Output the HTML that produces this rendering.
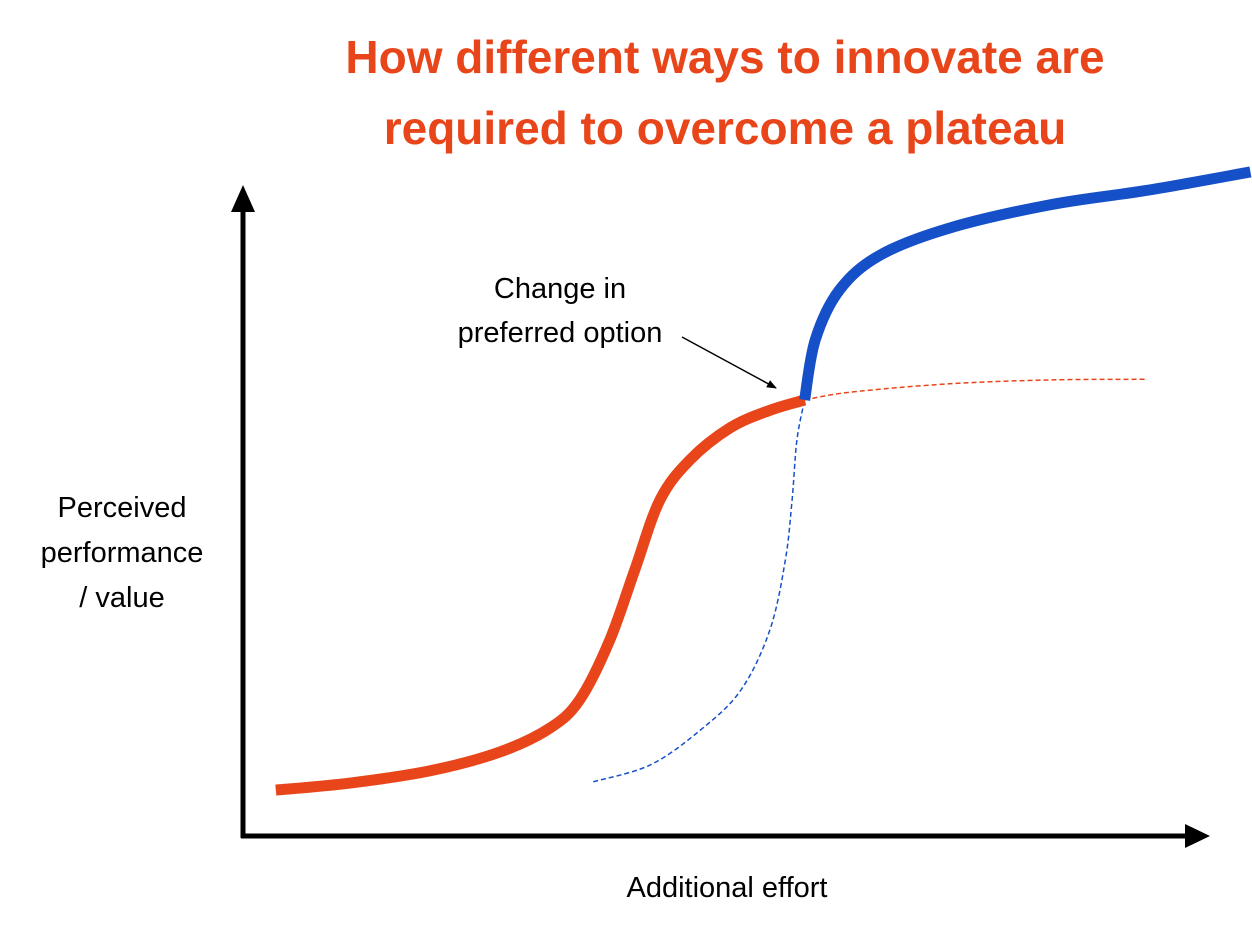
<!DOCTYPE html>
<html><head><meta charset="utf-8"><style>
html,body{margin:0;padding:0;background:#fff;}
svg{display:block;font-family:"Liberation Sans",sans-serif;}
</style></head><body>
<svg id="chart" width="1252" height="931" viewBox="0 0 1252 931">
<defs>
<marker id="ah" markerWidth="10" markerHeight="10" refX="9" refY="5" orient="auto" markerUnits="userSpaceOnUse"><path d="M0,1 L10,5 L0,9 z" fill="#000"/></marker>
</defs>
<text x="725" y="73" text-anchor="middle" font-size="46" font-weight="bold" fill="#E8461A">How different ways to innovate are</text>
<text x="725" y="144" text-anchor="middle" font-size="46" font-weight="bold" fill="#E8461A">required to overcome a plateau</text>
<line x1="243" y1="838" x2="243" y2="210" stroke="#000" stroke-width="5"/>
<polygon points="231,212 255,212 243,185" fill="#000"/>
<line x1="241" y1="836" x2="1188" y2="836" stroke="#000" stroke-width="5"/>
<polygon points="1185,824 1185,848 1210,836" fill="#000"/>
<text font-size="29" text-anchor="middle" fill="#000">
<tspan x="122" y="517">Perceived</tspan><tspan x="122" y="562">performance</tspan><tspan x="122" y="607">/ value</tspan></text>
<text x="727" y="897" font-size="29" text-anchor="middle" fill="#000">Additional effort</text>
<text font-size="29" text-anchor="middle" fill="#000">
<tspan x="560" y="298">Change in</tspan><tspan x="560" y="342">preferred option</tspan></text>
<line x1="682" y1="337" x2="776" y2="388" stroke="#000" stroke-width="1.5" marker-end="url(#ah)"/>
<g id="series"></g>
</svg>
<script>
const orangeX=[3.4,11.1,19.4,26.6,31.8,34.9,38.0,40.6,43.2,46.3,50.5,54.6,58.2];
const orangeY=[7.1,8.2,10.1,13.0,16.7,21.1,30.3,41.2,52.0,58.2,63.2,65.9,67.5];
const orangeDashX=[58.2,62.9,73.2,83.6,93.5];
const orangeDashY=[67.5,68.7,70.0,70.6,70.7];
const blueX=[58.2,59.3,61.8,66.0,73.2,83.6,93.9,104.4];
const blueY=[67.5,76.8,84.5,89.9,94.1,97.7,100,102.8];
const blueDashX=[36.3,42.2,47.4,51.6,54.6,56.2,56.9,57.4,58.2];
const blueDashY=[8.4,11.0,16.4,22.6,31.9,42.7,52.0,61.3,67.5];
function sx(v){return 243+v*9.65;}
function sy(v){return 836-v*6.46;}
function pathFrom(xs,ys){
  const p=xs.map((x,i)=>[sx(x),sy(ys[i])]);
  let d="M"+p[0][0]+","+p[0][1];
  for(let i=0;i<p.length-1;i++){
    const p0=p[Math.max(0,i-1)],p1=p[i],p2=p[i+1],p3=p[Math.min(p.length-1,i+2)];
    const c1=[p1[0]+(p2[0]-p0[0])/6,p1[1]+(p2[1]-p0[1])/6];
    const c2=[p2[0]-(p3[0]-p1[0])/6,p2[1]-(p3[1]-p1[1])/6];
    d+=" C"+c1[0]+","+c1[1]+" "+c2[0]+","+c2[1]+" "+p2[0]+","+p2[1];
  }
  return d;
}
const g=document.getElementById("series");
function add(xs,ys,color,w,dash,name){
  const el=document.createElementNS("http://www.w3.org/2000/svg","path");
  el.setAttribute("d",pathFrom(xs,ys));
  el.setAttribute("fill","none");
  el.setAttribute("stroke",color);
  el.setAttribute("stroke-width",w);
  if(dash)el.setAttribute("stroke-dasharray",dash);
  
  
  g.appendChild(el);
}
add(orangeDashX,orangeDashY,"#E8461A",1.5,"5,3","orange-plateau-dashed");
add(blueDashX,blueDashY,"#1650C8",1.5,"5,3","blue-early-dashed");
add(orangeX,orangeY,"#E8461A",11,null,"orange-s-curve");
add(blueX,blueY,"#1650C8",11,null,"blue-s-curve");
</script>
</body></html>
